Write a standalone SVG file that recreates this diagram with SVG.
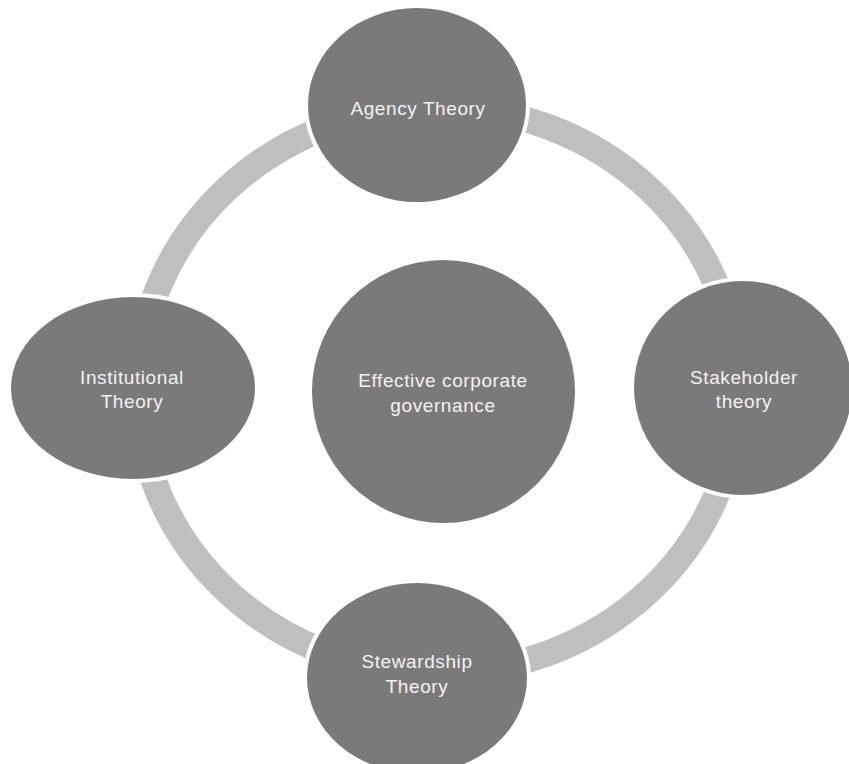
<svg xmlns="http://www.w3.org/2000/svg" width="849" height="764" viewBox="0 0 849 764">
  <style>
    .halo { fill: #ffffff; }
    .node { fill: #7a7a7a; }
    .lbl { font-family: "Liberation Sans", Arial, sans-serif; font-size: 19px; letter-spacing: 0.6px; fill: #f2f2f2; text-anchor: middle; }
    .ring { fill: none; stroke: #bfbfbf; stroke-width: 26; }
  </style>
  <rect width="849" height="764" fill="#ffffff"/>
  <g id="connectors">
    <ellipse class="ring" cx="438" cy="390" rx="300" ry="283"/>
  </g>
  <g id="node-center">
    <circle class="node" cx="443.5" cy="391.5" r="131.5"/>
    <text class="lbl" x="443" y="387">Effective corporate</text>
    <text class="lbl" x="443" y="412">governance</text>
  </g>
  <g id="node-agency">
    <ellipse class="halo" cx="417" cy="105" rx="113" ry="101"/>
    <ellipse class="node" cx="417" cy="105" rx="109" ry="97"/>
    <text class="lbl" x="418" y="115">Agency Theory</text>
  </g>
  <g id="node-stakeholder">
    <ellipse class="halo" cx="743" cy="388" rx="113" ry="111"/>
    <ellipse class="node" cx="743" cy="388" rx="109" ry="107"/>
    <text class="lbl" x="744" y="384">Stakeholder</text>
    <text class="lbl" x="744" y="408">theory</text>
  </g>
  <g id="node-stewardship">
    <ellipse class="halo" cx="417" cy="678" rx="114" ry="99"/>
    <ellipse class="node" cx="417" cy="678" rx="110" ry="95"/>
    <text class="lbl" x="417" y="668">Stewardship</text>
    <text class="lbl" x="417" y="693">Theory</text>
  </g>
  <g id="node-institutional">
    <ellipse class="halo" cx="133" cy="388" rx="126" ry="95"/>
    <ellipse class="node" cx="133" cy="388" rx="122" ry="91"/>
    <text class="lbl" x="132" y="384">Institutional</text>
    <text class="lbl" x="132" y="408">Theory</text>
  </g>
</svg>
